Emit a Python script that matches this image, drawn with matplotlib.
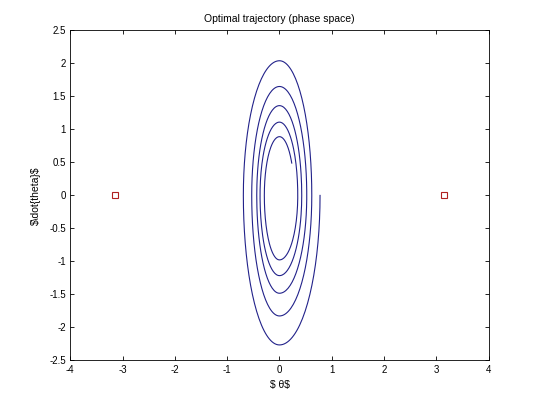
import numpy as np
import matplotlib
matplotlib.use("Agg")
import matplotlib.pyplot as plt

# Turning points of the trajectory (clockwise order)
# crossings of theta_dot = 0 (theta values): start, then right/left alternating
right_theta = [0.776, 0.618, 0.522, 0.426, 0.350]
left_theta = [-0.690, -0.530, -0.434, -0.371, -0.289]
# crossings of theta = 0 (theta_dot values)
bottom_thetadot = [-2.265, -1.826, -1.482, -1.215, -0.977]
top_thetadot = [2.04, 1.65, 1.36, 1.11, 0.89]
# end point of the trajectory
end_theta, end_thetadot = 0.235, 0.49

# equilibrium markers
marker_theta = [-np.pi, np.pi]
marker_thetadot = [0.0, 0.0]

# build the trajectory from the quarter turns between turning points
xs, ys = [], []
n = 40
for k in range(len(right_theta)):
    quarters = [
        (right_theta[k], -bottom_thetadot[k], 0.0, -np.pi / 2),
        (-left_theta[k], -bottom_thetadot[k], -np.pi / 2, -np.pi),
        (-left_theta[k], top_thetadot[k], -np.pi, -1.5 * np.pi),
    ]
    if k + 1 < len(right_theta):
        quarters.append((right_theta[k + 1], top_thetadot[k], -1.5 * np.pi, -2 * np.pi))
    for A, B, p0, p1 in quarters:
        phi = np.linspace(p0, p1, n)
        xs.extend(A * np.cos(phi))
        ys.extend(B * np.sin(phi))
# final partial quarter
B = top_thetadot[-1]
phi_end = np.arcsin(end_thetadot / B)
A = end_theta / np.cos(phi_end)
phi = np.linspace(np.pi / 2, phi_end, n)
xs.extend(A * np.cos(phi))
ys.extend(B * np.sin(phi))

plt.rcParams['font.family'] = ['Liberation Sans', 'DejaVu Sans']
fig = plt.figure(figsize=(5.4, 4.05), dpi=100)
fig.patch.set_facecolor('white')
ax = fig.add_axes([0.13, 0.11, 0.775, 0.815])

ax.plot(xs, ys, color='#22228a', linewidth=0.8)
ax.plot(marker_theta, marker_thetadot, linestyle='none', marker='s',
        markersize=5, markerfacecolor='white', markeredgecolor='#b02020',
        markeredgewidth=0.8)

ax.set_xlim(-4, 4)
ax.set_ylim(-2.5, 2.5)
ax.set_xticks(np.arange(-4, 4.01, 1))
ax.set_yticks(np.arange(-2.5, 2.51, 0.5))
ax.set_xticklabels(['-4', '-3', '-2', '-1', '0', '1', '2', '3', '4'])
ax.set_yticklabels(['-2.5', '-2', '-1.5', '-1', '-0.5', '0', '0.5', '1', '1.5', '2', '2.5'])
ax.tick_params(direction='in', length=3, width=0.6, labelsize=7,
               top=True, right=True, pad=3)
for s in ax.spines.values():
    s.set_linewidth(0.6)

ax.set_title('Optimal trajectory (phase space)', fontsize=7.5, pad=6)
ax.set_xlabel('$ θ$', fontsize=7.5, parse_math=False, labelpad=4)
ax.set_ylabel(r'$\dot{theta}$', fontsize=7.5, parse_math=False, labelpad=6)

fig.savefig('out.png', dpi=100, facecolor='white')
